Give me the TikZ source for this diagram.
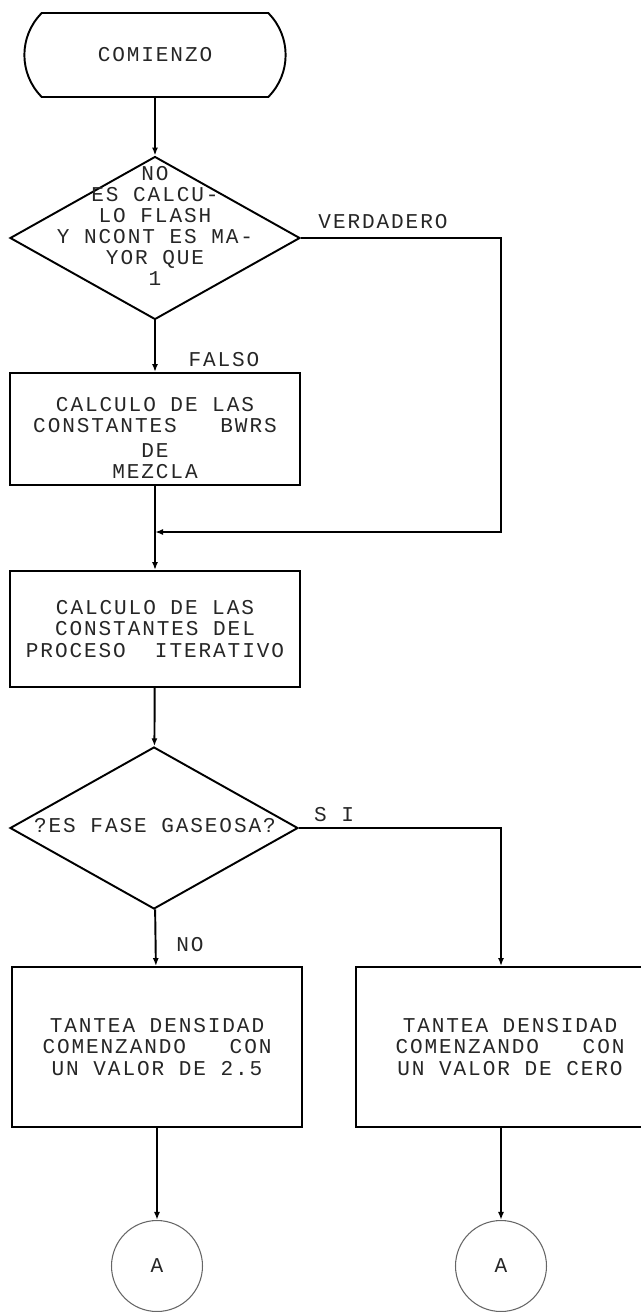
\documentclass[tikz,border=0pt]{standalone}
\usepackage{fontspec}
\newfontfamily\typefont[LetterSpace=9]{Liberation Mono}
\usetikzlibrary{shapes.geometric,shapes.misc,arrows.meta}

\begin{document}
\begin{tikzpicture}[x=0.02cm,y=-0.02cm,
	every node/.style={font=\typefont\fontsize{12}{12}\selectfont, text=black!85},
	flow/.style={line width=1.1pt, -{Latex[length=1.6mm,width=1.2mm]}},
	term/.style={draw, line width=1.1pt, rounded rectangle, rounded rectangle arc length=90, minimum width=5.46cm, minimum height=1.68cm},
	decision/.style={draw, line width=1.1pt, diamond, inner sep=0pt, minimum width=5.8cm, minimum height=3.26cm},
	proc/.style={draw, line width=1.1pt, rectangle, align=center, inner sep=0pt, minimum width=5.8cm},
	conector/.style={draw=black!60, circle, line width=0.6pt, inner sep=0pt, minimum size=1.82cm},
	lbl/.style={inner sep=0pt, align=center}]
	\useasboundingbox (0,0) rectangle (641,1312);
	% nodos principales
	\node[term] (start) at (155,55) {COMIENZO};
	\node[decision] (flash) at (155,238) {};
	\node[lbl] (flashtxt) at (155,226) {NO\\ES CALCU-\\LO FLASH\\Y NCONT ES MA-\\YOR QUE\\1};
	\node[proc, minimum height=2.24cm] (bwrs) at (155,429) {};
	\node[lbl] (bwrstxt) at (155,438) {CALCULO DE LAS\\CONSTANTES~~~BWRS\\[2pt]DE\\MEZCLA};
	\node[proc, minimum height=2.32cm] (iter) at (155,629) {CALCULO DE LAS\\CONSTANTES DEL\\PROCESO~~ITERATIVO};
	\node[decision, minimum width=5.76cm, minimum height=3.24cm] (fase) at (154,828) {};
	\node[lbl] (fasetxt) at (155,826) {?ES FASE GASEOSA?};
	\node[proc, minimum height=3.2cm] (liq) at (157,1047) {TANTEA DENSIDAD\\COMENZANDO~~~CON\\UN VALOR DE 2.5};
	\node[proc, minimum height=3.2cm] (gas) at (501,1047) {};
	\node[lbl] (gastxt) at (510,1047) {TANTEA DENSIDAD\\COMENZANDO~~~CON\\UN VALOR DE CERO};
	\node[conector] (ca) at (157,1266) {A};
	\node[conector] (cb) at (501,1266) {A};
	\coordinate (joinr) at (501,532);
	\coordinate (join) at (155,532);
	% etiquetas
	\node[lbl] (verd) at (383,222) {VERDADERO};
	\node[lbl] (falso) at (224,360) {FALSO};
	\node[lbl] (si) at (334,815) {S I};
	\node[lbl] (no) at (190,945) {NO};
	% conectores
	\draw[flow] (start) -- (flash);
	\draw[flow] (flash) -- (bwrs);
	\draw[flow] (flash.east) -| (joinr) -- (join);
	\draw[flow] (bwrs) -- (iter);
	\draw[flow] (iter) -- (fase);
	\draw[flow] (fase) -- (liq);
	\draw[flow] (fase.east) -| (gas.north);
	\draw[flow] (liq) -- (ca);
	\draw[flow] (gas) -- (cb);
\end{tikzpicture}
\end{document}
